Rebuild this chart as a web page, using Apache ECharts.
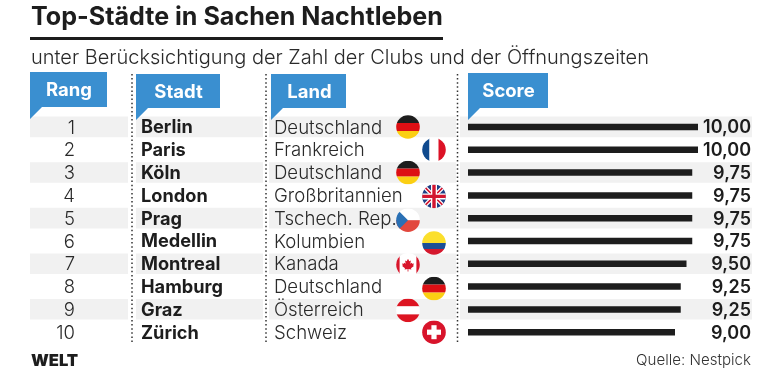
<!DOCTYPE html>
<html><head><meta charset="utf-8">
<style>html,body{margin:0;padding:0;background:#fff}#c{width:780px;height:373px}</style>
<script src="https://cdn.jsdelivr.net/npm/echarts@6/dist/echarts.min.js"></script>
</head><body><div id="c"></div>
<script>
const ranks = [1,2,3,4,5,6,7,8,9,10];
const cities = ['Berlin','Paris','Köln','London','Prag','Medellin','Montreal','Hamburg','Graz','Zürich'];
const countries = ['Deutschland','Frankreich','Deutschland','Großbritannien','Tschech. Rep.','Kolumbien','Kanada','Deutschland','Österreich','Schweiz'];
const scores = [10,10,9.75,9.75,9.75,9.75,9.5,9.25,9.25,9];
const flagCodes = ['de','fr','de','gb','cz','co','ca','de','at','ch'];
const flagX = [408,434,408,434,408,434,408,434,408,434];
const flagDy = [0,0,0,1,2,2,1,2,1,0];
const headers = [['Rang',30,107,72,107,69],['Stadt',136,220,74,108,178.5],['Land',271,346,74,108,309.5],['Score',468,548,73,108,508.5]];
const dottedX = [132,266,457.5];
const stripes = [[30,128],[136,263],[269,456],[460,752]];

const FONT = 'Inter';
const INK = '#1d1d1d';
const BLUE = '#3a8fd0';

const flagBody = {
  de:'<rect width="24" height="8" fill="#1d1d1d"/><rect y="8" width="24" height="8" fill="#dd0f14"/><rect y="16" width="24" height="8" fill="#fbcf13"/>',
  fr:'<rect width="7.5" height="24" fill="#0f4a8e"/><rect x="7.5" width="9" height="24" fill="#fff"/><rect x="16.5" width="7.5" height="24" fill="#dc1226"/>',
  gb:'<rect width="24" height="24" fill="#1f3f85"/><path d="M0 0L24 24M24 0L0 24" stroke="#fff" stroke-width="4"/><path d="M0 0L24 24M24 0L0 24" stroke="#d3152f" stroke-width="1.6"/><path d="M12 0V24M0 12H24" stroke="#fff" stroke-width="6"/><path d="M12 0V24M0 12H24" stroke="#d3152f" stroke-width="3.4"/>',
  cz:'<rect width="24" height="12" fill="#fff"/><rect y="12" width="24" height="12" fill="#e2483d"/><path d="M0 0L12 12L0 24Z" fill="#2a70b4"/>',
  co:'<rect width="24" height="12" fill="#fbdf2c"/><rect y="12" width="24" height="6" fill="#1c4f96"/><rect y="18" width="24" height="6" fill="#d5182d"/>',
  ca:'<rect width="24" height="24" fill="#fff"/><rect width="3.6" height="24" fill="#d8162b"/><rect x="20.4" width="3.6" height="24" fill="#d8162b"/><path d="M12 6L13.3 8.5L14.9 7.8L14.3 11L15.7 9.9L16.2 11L17.9 10.8L17.2 12.7L17.9 13.2L15 15.5L15.4 16.7L12.4 16.3V18.6H11.6V16.3L8.6 16.7L9 15.5L6.1 13.2L6.8 12.7L6.1 10.8L7.8 11L8.3 9.9L9.7 11L9.1 7.8L10.7 8.5Z" fill="#d8162b"/>',
  at:'<rect width="24" height="8" fill="#dd1522"/><rect y="8" width="24" height="8" fill="#fff"/><rect y="16" width="24" height="8" fill="#dd1522"/>',
  ch:'<rect width="24" height="24" fill="#d8142b"/><rect x="9.4" y="5" width="5.2" height="14" fill="#fff"/><rect x="5" y="9.4" width="14" height="5.2" fill="#fff"/>'
};
function flagUri(code){
  const svg = '<svg xmlns="http://www.w3.org/2000/svg" width="96" height="96" viewBox="0 0 24 24"><defs><clipPath id="k"><circle cx="12" cy="12" r="11.8"/></clipPath></defs><g clip-path="url(#k)">'+flagBody[code]+'</g></svg>';
  return 'data:image/svg+xml;charset=utf-8,'+encodeURIComponent(svg);
}

const rowData = ranks.map((_, i) => [0, i]);
function textColumn(name, texts, x, align, font, fill){
  return {
    type:'custom', name, data:rowData, z:4, silent:true, clip:false,
    renderItem:(p, api) => {
      const i = api.value(1);
      return {type:'text', x, y:api.coord([0,i])[1] + 1, style:{text:String(texts[i]), align, verticalAlign:'middle', font, fill}};
    }
  };
}

const graphics = [];
graphics.push({type:'rect', shape:{x:30,y:37,width:413,height:3}, style:{fill:INK}});
graphics.push({type:'text', x:31, y:58, style:{text:'unter Berücksichtigung der Zahl der Clubs und der Öffnungszeiten', verticalAlign:'middle', font:'300 20px '+FONT, fill:'#2a2a2a'}});
dottedX.forEach(x => graphics.push({type:'line', shape:{x1:x,y1:74,x2:x,y2:343}, style:{stroke:'#333', lineWidth:1.5, lineDash:[1.5,2.6]}, z:1}));
headers.forEach(h => {
  const [t,x1,x2,y1,y2,cx] = h;
  graphics.push({type:'polygon', z:5, shape:{points:[[x1,y1],[x2,y1],[x2,y2],[x1+12,y2],[x1,y2+12]]}, style:{fill:BLUE}});
  graphics.push({type:'text', z:6, x:cx, y:(y1+y2)/2+1, style:{text:t, align:'center', verticalAlign:'middle', font:'700 18.5px '+FONT, fill:'#fff'}});
});
graphics.push({type:'text', x:31, y:361, style:{text:'WELT', verticalAlign:'middle', font:'900 16.5px '+FONT, fill:INK}});
graphics.push({type:'text', x:751, y:360, style:{text:'Quelle: Nestpick', align:'right', verticalAlign:'middle', font:'300 15.1px '+FONT, fill:'#333'}});

const chart = echarts.init(document.getElementById('c'), null, {renderer:'canvas'});
chart.setOption({
  animation:false,
  backgroundColor:'#fff',
  title:{text:'Top-Städte in Sachen Nachtleben', left:31, top:5, padding:0, textStyle:{fontFamily:FONT, fontWeight:700, fontSize:25.1, color:INK}},
  grid:{left:468, width:230, top:115.6, height:228, containLabel:false},
  xAxis:{type:'value', min:0, max:10, show:false},
  yAxis:{type:'category', data:cities, inverse:true, show:false},
  graphic:graphics,
  series:[
    {type:'custom', name:'stripes', data:rowData.filter(d => d[1] % 2 === 0), z:0, silent:true, clip:false,
      renderItem:(p, api) => {
        const y = api.coord([0, api.value(1)])[1];
        return {type:'group', children:stripes.map(s => ({type:'rect', shape:{x:s[0], y:y-10.4, width:s[1]-s[0], height:20.6}, style:{fill:'#f1f1f1'}}))};
      }},
    {type:'bar', name:'Score', data:scores, barWidth:6.5, z:3, itemStyle:{color:INK}, silent:true},
    textColumn('Rang', ranks, 75, 'right', '300 18.5px '+FONT, '#2a2a2a'),
    textColumn('Stadt', cities, 141, 'left', '700 18.2px '+FONT, INK),
    textColumn('Land', countries, 274, 'left', '300 18.6px '+FONT, '#2a2a2a'),
    textColumn('Wert', scores.map(v => v.toFixed(2).replace('.',',')), 751, 'right', '600 18px '+FONT, INK),
    {type:'custom', name:'Flaggen', data:rowData, z:4, silent:true, clip:false,
      renderItem:(p, api) => {
        const i = api.value(1);
        const y = api.coord([0,i])[1] + flagDy[i];
        return {type:'image', style:{image:flagUri(flagCodes[i]), x:flagX[i]-12, y:y-12, width:24, height:24}};
      }}
  ]
});
</script></body></html>
